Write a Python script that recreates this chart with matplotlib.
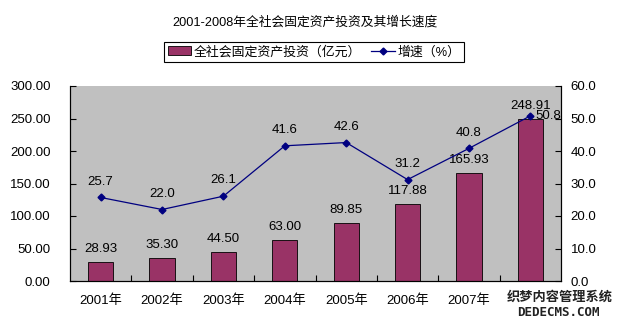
import numpy as np
import matplotlib
matplotlib.use('Agg')
import matplotlib.pyplot as plt
from matplotlib.ticker import FixedLocator

plt.rcParams['font.family'] = ['Liberation Sans', 'Noto Sans CJK SC', 'DejaVu Sans']
plt.rcParams['font.size'] = 9.5

years = ['2001年', '2002年', '2003年', '2004年', '2005年', '2006年', '2007年', '2008年']
investment = [28.93, 35.30, 44.50, 63.00, 89.85, 117.88, 165.93, 248.91]
growth = [25.7, 22.0, 26.1, 41.6, 42.6, 31.2, 40.8, 50.8]

fig = plt.figure(figsize=(6.17, 3.25), dpi=100)
ax = fig.add_axes([70 / 617, 1 - 281 / 325, 491 / 617, 195 / 325])
ax.set_facecolor('#c0c0c0')
x = np.arange(len(years))

bars = ax.bar(x, investment, width=0.41, color='#993366', edgecolor='black',
              linewidth=0.6, label='全社会固定资产投资（亿元）', zorder=2)
ax.set_xlim(-0.5, len(years) - 0.5)
ax.set_ylim(0, 300)
ax.set_yticks(np.arange(0, 301, 50))
ax.set_yticklabels([f'{v:.2f}' for v in np.arange(0, 301, 50)])
ax.set_xticks(x)
ax.set_xticklabels(years)
ax.xaxis.set_minor_locator(FixedLocator(np.arange(0.5, len(years) - 1, 1)))
ax.tick_params(axis='x', which='major', length=0, pad=10)
ax.tick_params(axis='x', which='minor', length=4, direction='in', width=0.8)
ax.tick_params(axis='y', length=4, direction='in', width=0.8, pad=14)

for xi, v in zip(x, investment):
    ax.annotate(f'{v:.2f}', (xi, v), xytext=(0, 5), textcoords='offset points',
                ha='center', va='bottom', zorder=5)

ax2 = ax.twinx()
line, = ax2.plot(x, growth, color='#000080', linewidth=0.9, marker='D',
                 markersize=3.5, label='增速（%）', zorder=3)
ax2.set_ylim(0, 60)
ax2.set_yticks(np.arange(0, 61, 10))
ax2.set_yticklabels([f'{v:.1f}' for v in np.arange(0, 61, 10)])
ax2.tick_params(axis='y', length=4, direction='in', width=0.8, pad=7)

for xi, v in zip(x[:-1], growth[:-1]):
    ax2.annotate(f'{v:.1f}', (xi, v), xytext=(0, 7), textcoords='offset points',
                 ha='center', va='bottom')
ax2.annotate(f'{growth[-1]:.1f}', (x[-1], growth[-1]), xytext=(4, 0),
             textcoords='offset points', ha='left', va='center')

for a in (ax, ax2):
    a.spines['top'].set_visible(False)
    for s in ('left', 'right', 'bottom'):
        a.spines[s].set_linewidth(0.8)

fig.text(305 / 617, 1 - 22 / 325, '2001-2008年全社会固定资产投资及其增长速度',
         ha='center', va='center', fontsize=9.2)

leg = fig.legend(handles=[bars, line], loc='center', ncol=2,
                 bbox_to_anchor=(314 / 617, 1 - 52 / 325), fancybox=False,
                 edgecolor='black', framealpha=1, fontsize=9.3,
                 handlelength=1.8, handletextpad=0.2, columnspacing=0.8,
                 borderpad=0.3, borderaxespad=0)
leg.get_frame().set_linewidth(0.8)

# site stamp in the lower right corner
fig.text(560 / 617, 1 - 297 / 325, '织梦内容管理系统', ha='center', va='center',
         fontsize=9.5, fontweight='bold', color='#222222',
         bbox=dict(facecolor='white', edgecolor='none', pad=1.5))
fig.text(558 / 617, 1 - 313 / 325, 'DEDECMS.COM', ha='center', va='center',
         fontsize=9, fontweight='bold', color='#222222',
         family=['DejaVu Sans Mono'])

fig.savefig('out.png', dpi=100)
